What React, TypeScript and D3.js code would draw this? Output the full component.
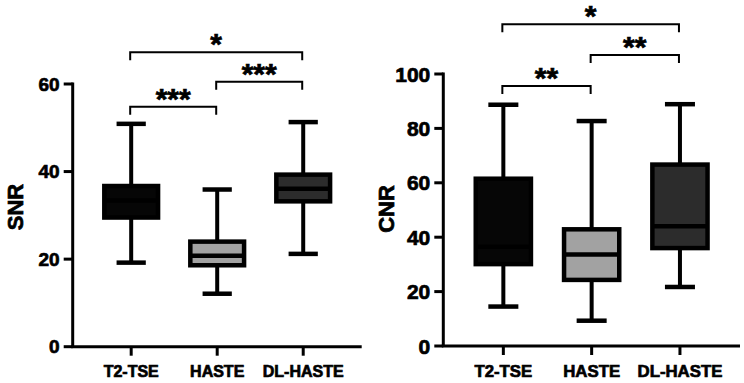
import * as d3 from "d3";

type Stats = [number, number, number, number, number]; // min, q1, median, q3, max

type Bracket = { from: string; to: string; label: string; level: number };

type PanelCfg = {
  title: string;
  stats: Stats[];
  yMax: number;
  ticks: number[];
  brackets: Bracket[];
  // geometry
  axisX: number;
  axisEnd: number;
  yBottom: number;
  yTop: number;
  levelY: number[];
  titleX: number;
  titleY: number;
  titleSize: number;
  tickSize: number;
  catSize: number;
};

// --- data ---

const groups = ["T2-TSE", "HASTE", "DL-HASTE"];
const fills = ["#060606", "#a2a2a2", "#2c2c2c"];

const snrStats: Stats[] = [
  [19.2, 29.5, 33.4, 36.7, 50.9],
  [12.1, 18.6, 20.8, 24.0, 35.9],
  [21.2, 33.2, 36.1, 39.3, 51.3],
];
const snrTicks = [0, 20, 40, 60];

const cnrStats: Stats[] = [
  [14.5, 30.1, 36.5, 61.5, 88.7],
  [9.3, 24.3, 33.6, 42.9, 82.7],
  [21.7, 36.0, 44.0, 66.7, 88.9],
];
const cnrTicks = [0, 20, 40, 60, 80, 100];

const snrBrackets: Bracket[] = [
  { from: "T2-TSE", to: "HASTE", label: "***", level: 0 },
  { from: "HASTE", to: "DL-HASTE", label: "***", level: 1 },
  { from: "T2-TSE", to: "DL-HASTE", label: "*", level: 2 },
];
const cnrBrackets: Bracket[] = [
  { from: "T2-TSE", to: "HASTE", label: "**", level: 0 },
  { from: "HASTE", to: "DL-HASTE", label: "**", level: 1 },
  { from: "T2-TSE", to: "DL-HASTE", label: "*", level: 2 },
];

const FONT = "'Liberation Sans', Arial, sans-serif";
// heavy lettering: bold face plus a thin outline
const heavy = { stroke: "#000", strokeWidth: 0.7, paintOrder: "stroke" } as const;

function Panel({ cfg }: { cfg: PanelCfg }) {
  const y = d3.scaleLinear().domain([0, cfg.yMax]).range([cfg.yBottom, cfg.yTop]);
  const x = d3
    .scalePoint<string>()
    .domain(groups)
    .range([cfg.axisX, cfg.axisEnd])
    .padding(0.68);
  const step = x.step();
  const boxW = step * 0.625;
  const capW = step * 0.34;
  const starSize = 30;

  return (
    <g fontFamily={FONT} fontWeight="bold">
      {/* y axis */}
      <line x1={cfg.axisX} x2={cfg.axisX} y1={y(cfg.yMax) - 1.5} y2={cfg.yBottom} stroke="#000" strokeWidth={3} />
      {cfg.ticks.map((t) => (
        <g key={t}>
          <line x1={cfg.axisX - 9} x2={cfg.axisX} y1={y(t)} y2={y(t)} stroke="#000" strokeWidth={3} />
          <text
            x={cfg.axisX - 13}
            y={y(t)}
            textAnchor="end"
            dominantBaseline="central"
            fontSize={cfg.tickSize}
            {...heavy}
          >
            {t}
          </text>
        </g>
      ))}
      {/* x axis */}
      <line x1={cfg.axisX - 1.5} x2={cfg.axisEnd} y1={cfg.yBottom} y2={cfg.yBottom} stroke="#000" strokeWidth={3} />
      {groups.map((g) => (
        <g key={g}>
          <line x1={x(g)} x2={x(g)} y1={cfg.yBottom} y2={cfg.yBottom + 9} stroke="#000" strokeWidth={3} />
          <text x={x(g)} y={377} textAnchor="middle" fontSize={cfg.catSize} {...heavy}>
            {g}
          </text>
        </g>
      ))}
      <text
        transform={`translate(${cfg.titleX},${cfg.titleY}) rotate(-90)`}
        textAnchor="middle"
        dominantBaseline="central"
        fontSize={cfg.titleSize}
        {...heavy}
      >
        {cfg.title}
      </text>

      {/* boxes */}
      {groups.map((g, i) => {
        const [mn, q1, md, q3, mx] = cfg.stats[i];
        const cx = x(g)!;
        return (
          <g key={g} stroke="#000">
            <line x1={cx} x2={cx} y1={y(mn)} y2={y(mx)} strokeWidth={4} />
            <line x1={cx - capW / 2} x2={cx + capW / 2} y1={y(mx)} y2={y(mx)} strokeWidth={4.5} />
            <line x1={cx - capW / 2} x2={cx + capW / 2} y1={y(mn)} y2={y(mn)} strokeWidth={4.5} />
            <rect
              x={cx - boxW / 2}
              y={y(q3)}
              width={boxW}
              height={y(q1) - y(q3)}
              fill={fills[i]}
              strokeWidth={4.5}
            />
            <line x1={cx - boxW / 2} x2={cx + boxW / 2} y1={y(md)} y2={y(md)} strokeWidth={4.5} />
          </g>
        );
      })}

      {/* significance brackets */}
      {cfg.brackets.map((b, i) => {
        const x1 = x(b.from)! - 1;
        const x2 = x(b.to)! - 1;
        const ly = cfg.levelY[b.level];
        return (
          <g key={i}>
            <path
              d={`M${x1},${ly + 8}V${ly}H${x2}V${ly + 8}`}
              fill="none"
              stroke="#000"
              strokeWidth={2}
            />
            <text
              x={(x1 + x2) / 2}
              y={ly - 14.5 + starSize * 0.55}
              textAnchor="middle"
              fontSize={starSize}
              letterSpacing={0}
              {...heavy}
            >
              {b.label}
            </text>
          </g>
        );
      })}
    </g>
  );
}

const snrPanel: PanelCfg = {
  title: "SNR",
  stats: snrStats,
  yMax: 60,
  ticks: snrTicks,
  brackets: snrBrackets,
  axisX: 72.7,
  axisEnd: 361.7,
  yBottom: 346.7,
  yTop: 84,
  levelY: [106.7, 81.7, 52.3],
  titleX: 15,
  titleY: 207,
  titleSize: 22,
  tickSize: 19,
  catSize: 16,
};

const cnrPanel: PanelCfg = {
  title: "CNR",
  stats: cnrStats,
  yMax: 100,
  ticks: cnrTicks,
  brackets: cnrBrackets,
  axisX: 443.3,
  axisEnd: 740,
  yBottom: 346,
  yTop: 74,
  levelY: [86, 55, 24.3],
  titleX: 386,
  titleY: 209,
  titleSize: 22,
  tickSize: 21,
  catSize: 16.8,
};

export default function App() {
  return (
    <svg
      width={744}
      height={383}
      style={{ position: "absolute", left: 0, top: 0, background: "#fff" }}
    >
      <Panel cfg={snrPanel} />
      <Panel cfg={cnrPanel} />
    </svg>
  );
}
